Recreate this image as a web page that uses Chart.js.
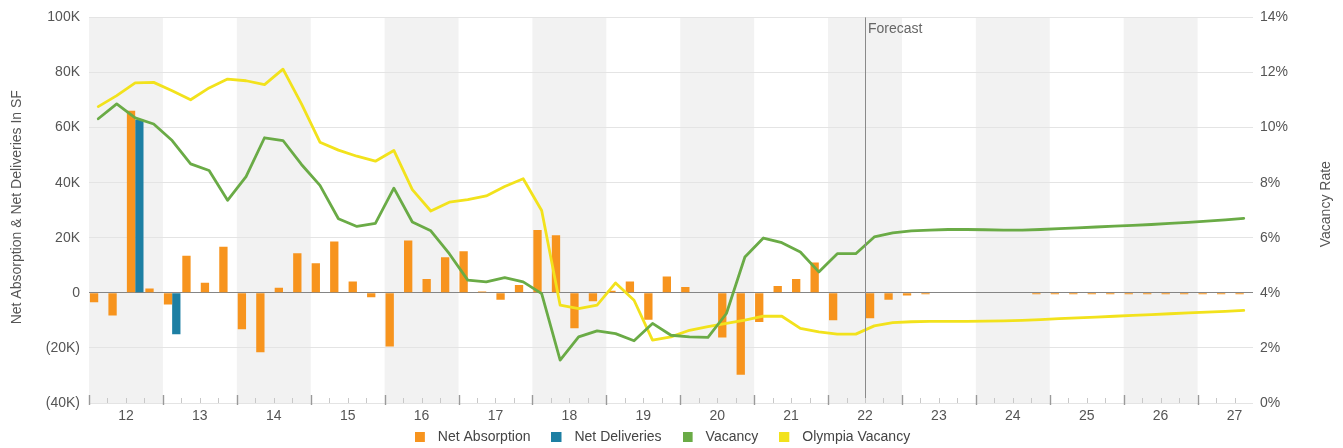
<!DOCTYPE html>
<html>
<head>
<meta charset="utf-8">
<title>Net Absorption, Net Deliveries & Vacancy</title>
<script src="https://cdn.jsdelivr.net/npm/chart.js@4"></script>
<style>
  html, body { margin: 0; padding: 0; background: #fff; overflow: hidden; }
  canvas { display: block; }
</style>
</head>
<body>
<canvas id="chart" width="1343" height="448"></canvas>
<script>
// Years shown on the x axis (2012 Q1 through 2027 Q3)
const years = ['12', '13', '14', '15', '16', '17', '18', '19', '20', '21', '22', '23', '24', '25', '26', '27'];
const quarterLabels = [];
years.forEach((yr, i) => {
  const count = i === years.length - 1 ? 3 : 4;
  for (let q = 1; q <= count; q++) quarterLabels.push(yr + ' Q' + q);
});
const forecastFrom = '22 Q3';

// Net absorption in SF, by quarter
const netAbsorption = [
  -3400, -8200, 66100, 1600,
  -4200, 13500, 3700, 16700,
  -13200, -21600, 1800, 14400,
  10700, 18600, 4100, -1600,
  -19500, 19000, 5000, 12900,
  15100, 500, -2500, 2800,
  22800, 20900, -12900, -3100,
  800, 4100, -9800, 5900,
  2100, 0, -16200, -29700,
  -10600, 2500, 5000, 11000,
  -10000, 0, -9200, -2500,
  -1000, -500, 0, 0,
  0, 0, 0, -500,
  -500, -500, -500, -500,
  -500, -500, -500, -500,
  -500, -500, -500
];

// Net deliveries in SF, by quarter
const netDeliveries = [
  0, 0, 62800, 0,
  -15000, 0, 0, 0,
  0, 0, 0, 0,
  0, 0, 0, 0,
  0, 0, 0, 0,
  0, 0, 0, 0,
  0, 0, 0, 0,
  0, 0, 0, 0,
  0, 0, 0, 0,
  0, 0, 0, 0,
  0, 0, 0, 0,
  0, 0, 0, 0,
  0, 0, 0, 0,
  0, 0, 0, 0,
  0, 0, 0, 0,
  0, 0, 0
];

// Vacancy rate (%), by quarter
const vacancy = [
  10.32, 10.86, 10.35, 10.13,
  9.53, 8.68, 8.44, 7.36,
  8.22, 9.63, 9.53, 8.66,
  7.90, 6.69, 6.41, 6.52,
  7.80, 6.57, 6.25, 5.42,
  4.46, 4.40, 4.55, 4.40,
  3.97, 1.56, 2.40, 2.62,
  2.52, 2.26, 2.89, 2.46,
  2.40, 2.38, 3.25, 5.30,
  5.99, 5.82, 5.48, 4.76,
  5.42, 5.42, 6.03, 6.18,
  6.25, 6.28, 6.30, 6.30,
  6.29, 6.28, 6.28, 6.30,
  6.33, 6.36, 6.39, 6.42,
  6.45, 6.48, 6.52, 6.56,
  6.60, 6.65, 6.70
];

// Olympia vacancy rate (%), by quarter
const olympiaVacancy = [
  10.76, 11.16, 11.62, 11.64,
  11.34, 11.01, 11.44, 11.76,
  11.70, 11.56, 12.12, 10.86,
  9.47, 9.18, 8.96, 8.78,
  9.17, 7.75, 6.97, 7.29,
  7.38, 7.52, 7.86, 8.14,
  6.99, 3.55, 3.43, 3.55,
  4.36, 3.73, 2.28, 2.40,
  2.64, 2.77, 2.89, 3.01,
  3.15, 3.15, 2.71, 2.58,
  2.50, 2.50, 2.80, 2.92,
  2.95, 2.96, 2.96, 2.96,
  2.97, 2.98, 3.00, 3.03,
  3.06, 3.09, 3.12, 3.15,
  3.18, 3.21, 3.24, 3.27,
  3.30, 3.33, 3.36
];

const ORANGE = '#f7941e';
const BLUE = '#1d7fa3';
const GREEN = '#6aab46';
const YELLOW = '#f2e21c';
const FONT = '"Liberation Sans", Arial, sans-serif';
const PLOT_BOTTOM = 403;

// square legend swatch with some room after it
function swatch(color) {
  const c = document.createElement('canvas');
  c.width = 16;
  c.height = 10;
  const g = c.getContext('2d');
  g.fillStyle = color;
  g.fillRect(0, 0, 10, 10);
  return c;
}

function kFormat(v) {
  if (v === 0) return '0';
  if (v < 0) return '(' + (-v / 1000) + 'K)';
  return (v / 1000) + 'K';
}

// alternating year bands behind the plot
const yearBands = {
  id: 'yearBands',
  afterLayout(chart) {
    // sit the legend row a little lower
    chart.legend.top += 6;
    chart.legend.bottom += 6;
  },
  beforeDraw(chart) {
    const { ctx, chartArea, scales: { x } } = chart;
    const step = x.getPixelForValue(1) - x.getPixelForValue(0);
    ctx.save();
    ctx.fillStyle = '#f2f2f2';
    years.forEach((yr, i) => {
      if (i % 2) return;
      const left = x.getPixelForValue(quarterLabels.indexOf(yr + ' Q1')) - step / 2;
      const right = Math.min(left + step * 4, chartArea.right);
      ctx.fillRect(left, chartArea.top, right - left, chartArea.bottom - chartArea.top);
    });
    ctx.restore();
  }
};

// year labels, quarter ticks, forecast marker and axis titles
const decorations = {
  id: 'decorations',
  afterDatasetsDraw(chart) {
    const { ctx, chartArea, scales: { x } } = chart;
    const fx = (x.getPixelForValue(quarterLabels.indexOf(forecastFrom)) +
                x.getPixelForValue(quarterLabels.indexOf(forecastFrom) - 1)) / 2;
    ctx.save();
    ctx.strokeStyle = '#8a8a8a';
    ctx.lineWidth = 1;
    ctx.beginPath();
    ctx.moveTo(Math.round(fx) + 0.5, chartArea.top);
    ctx.lineTo(Math.round(fx) + 0.5, chartArea.bottom);
    ctx.stroke();
    ctx.fillStyle = '#666';
    ctx.font = '14px ' + FONT;
    ctx.textAlign = 'left';
    ctx.textBaseline = 'middle';
    ctx.fillText('Forecast', fx + 3, chartArea.top + 12);
    ctx.restore();
  },
  afterDraw(chart) {
    const { ctx, chartArea, scales: { x } } = chart;
    const step = x.getPixelForValue(1) - x.getPixelForValue(0);
    const x0 = x.getPixelForValue(0) - step / 2;
    const base = chartArea.bottom;
    ctx.save();
    for (let k = 0; k < quarterLabels.length; k++) {
      const px = Math.round(x0 + k * step) + 0.5;
      const major = k % 4 === 0;
      ctx.strokeStyle = major ? '#9a9a9a' : '#c8c8c8';
      ctx.lineWidth = major ? 1.4 : 1;
      ctx.beginPath();
      ctx.moveTo(px, base + (major ? -8 : -5));
      ctx.lineTo(px, base + (major ? 2 : 0));
      ctx.stroke();
    }
    ctx.fillStyle = '#555';
    ctx.font = '14px ' + FONT;
    ctx.textAlign = 'center';
    ctx.textBaseline = 'middle';
    years.forEach((yr) => {
      const first = quarterLabels.indexOf(yr + ' Q1');
      ctx.fillText(yr, x0 + (first + 2) * step, base + 13);
    });

    const midY = (chartArea.top + chartArea.bottom) / 2;
    ctx.translate(17, midY - 3);
    ctx.rotate(-Math.PI / 2);
    ctx.fillText('Net Absorption & Net Deliveries In SF', 0, 0);
    ctx.setTransform(1, 0, 0, 1, 0, 0);
    ctx.translate(1326, midY - 6);
    ctx.rotate(-Math.PI / 2);
    ctx.fillText('Vacancy Rate', 0, 0);
    ctx.restore();
  }
};

const ctx = document.getElementById('chart').getContext('2d');
new Chart(ctx, {
  data: {
    labels: quarterLabels,
    datasets: [
      {
        type: 'bar',
        label: 'Net Absorption',
        data: netAbsorption,
        backgroundColor: ORANGE,
        yAxisID: 'y',
        order: 2,
        pointStyle: swatch(ORANGE),
      },
      {
        type: 'bar',
        label: 'Net Deliveries',
        data: netDeliveries,
        backgroundColor: BLUE,
        yAxisID: 'y',
        order: 2,
        pointStyle: swatch(BLUE),
      },
      {
        type: 'line',
        label: 'Vacancy',
        data: vacancy,
        borderColor: GREEN,
        backgroundColor: GREEN,
        borderWidth: 2.8,
        pointRadius: 0,
        tension: 0,
        yAxisID: 'y1',
        order: 1,
        pointStyle: swatch(GREEN),
      },
      {
        type: 'line',
        label: 'Olympia Vacancy',
        data: olympiaVacancy,
        borderColor: YELLOW,
        backgroundColor: YELLOW,
        borderWidth: 2.8,
        pointRadius: 0,
        tension: 0,
        yAxisID: 'y1',
        order: 1,
        pointStyle: swatch(YELLOW),
      },
    ],
  },
  options: {
    responsive: false,
    animation: false,
    devicePixelRatio: 1,
    layout: {
      padding: { top: 17, right: 18, left: 0, bottom: 0 },
    },
    datasets: {
      bar: {
        categoryPercentage: 0.9,
        barPercentage: 1.0,
      },
    },
    elements: {
      line: { borderJoinStyle: 'round', borderCapStyle: 'round' },
    },
    scales: {
      x: {
        type: 'category',
        offset: true,
        grid: { display: false },
        border: { display: false },
        ticks: { display: false },
        afterFit(scale) {
          // leave room below the plot only for the legend row
          scale.height = Math.max(0, scale.chart.height - PLOT_BOTTOM - scale.chart.legend.height);
        },
      },
      y: {
        position: 'left',
        min: -40000,
        max: 100000,
        ticks: {
          stepSize: 20000,
          padding: 9,
          color: '#555',
          font: { family: FONT, size: 14 },
          callback: kFormat,
        },
        grid: {
          drawTicks: false,
          color: (c) => (c.tick && c.tick.value === 0 ? '#858585' : '#e4e4e4'),
        },
        border: { display: false },
        afterFit(scale) { scale.width = 89; },
      },
      y1: {
        position: 'right',
        min: 0,
        max: 14,
        ticks: {
          stepSize: 2,
          padding: 7,
          color: '#555',
          font: { family: FONT, size: 14 },
          callback: (v) => v + '%',
        },
        grid: { display: false, drawTicks: false },
        border: { display: false },
        afterFit(scale) { scale.width = 72; },
      },
    },
    plugins: {
      legend: {
        position: 'bottom',
        labels: {
          usePointStyle: true,
          pointStyleWidth: 16,
          padding: 21,
          color: '#444',
          font: { family: FONT, size: 14 },
          sort: (a, b) => a.datasetIndex - b.datasetIndex,
        },
      },
      tooltip: { enabled: false },
    },
  },
  plugins: [yearBands, decorations],
});
</script>
</body>
</html>
